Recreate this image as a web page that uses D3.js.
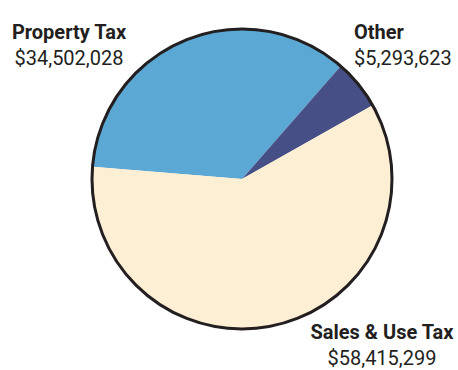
<!DOCTYPE html>
<html>
<head>
<meta charset="utf-8">
<script src="https://cdn.jsdelivr.net/npm/d3@7/dist/d3.min.js"></script>
<style>
  html, body { margin: 0; padding: 0; background: #fff; }
  svg { display: block; }
  text { font-family: Roboto, "Open Sans", sans-serif; fill: #231f20; }
</style>
</head>
<body>
<svg id="chart" width="458" height="370"></svg>
<script>
// Revenue sources
const categories = ["Property Tax", "Other", "Sales & Use Tax"];
const amounts = [34502028, 5293623, 58415299];
const colors = ["#5ca8d5", "#474f87", "#fdefd4"];

const width = 458, height = 370;
const cx = 242, cy = 179, radius = 150;

const svg = d3.select("#chart");
const g = svg.append("g").attr("transform", `translate(${cx},${cy})`);

const startDeg = -85.3;
const pie = d3.pie()
  .sort(null)
  .value(d => d.value)
  .startAngle(startDeg * Math.PI / 180)
  .endAngle((startDeg + 360) * Math.PI / 180);

const data = categories.map((c, i) => ({ name: c, value: amounts[i], color: colors[i] }));
const arc = d3.arc().innerRadius(0).outerRadius(radius);

g.selectAll("path.slice")
  .data(pie(data))
  .join("path")
  .attr("class", "slice")
  .attr("d", arc)
  .attr("fill", d => d.data.color);

g.append("circle")
  .attr("r", radius)
  .attr("fill", "none")
  .attr("stroke", "#231f20")
  .attr("stroke-width", 3);

const fmt = d3.format("$,");
const labels = [
  { i: 0, x: 69, y: 39, anchor: "middle" },
  { i: 1, x: 354, y: 39, anchor: "start" },
  { i: 2, x: 382, y: 339, anchor: "middle" }
];

labels.forEach(l => {
  const t = svg.append("text")
    .attr("x", l.x).attr("y", l.y)
    .attr("text-anchor", l.anchor)
    .style("font-size", "20px");
  t.append("tspan")
    .attr("x", l.x)
    .style("font-weight", "bold")
    .text(categories[l.i]);
  t.append("tspan")
    .attr("x", l.x)
    .attr("dy", 26)
    .text(fmt(amounts[l.i]));
});
</script>
</body>
</html>
